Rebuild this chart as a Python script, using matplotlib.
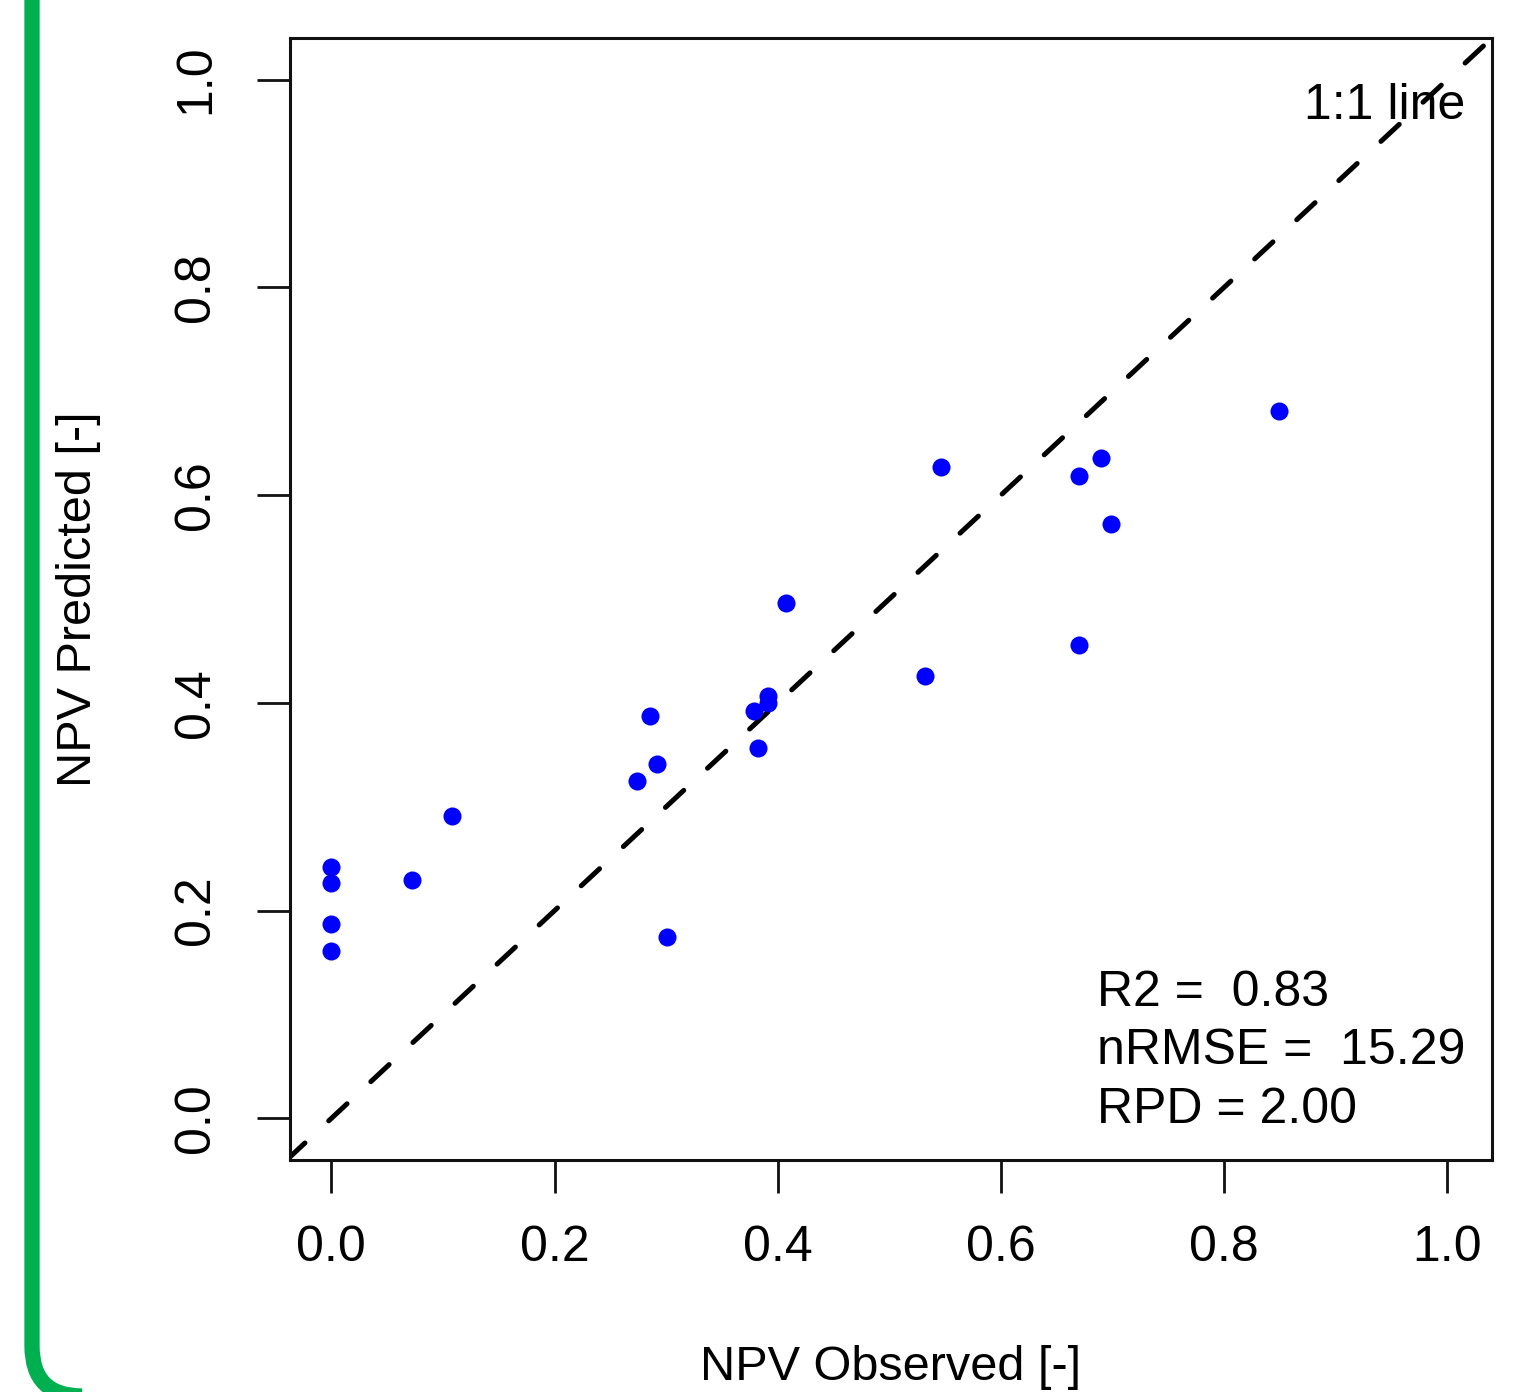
import numpy as np
import matplotlib
matplotlib.use("Agg")
import matplotlib.pyplot as plt
from matplotlib.patches import FancyBboxPatch
from matplotlib.transforms import IdentityTransform

# observed vs predicted NPV
npv_observed = [0.000, 0.000, 0.000, 0.000, 0.072, 0.108, 0.274, 0.286, 0.292,
                0.301, 0.379, 0.391, 0.391, 0.382, 0.407, 0.532, 0.546, 0.670,
                0.670, 0.690, 0.699, 0.849]
npv_predicted = [0.242, 0.227, 0.187, 0.161, 0.230, 0.291, 0.325, 0.387, 0.341,
                 0.175, 0.392, 0.407, 0.400, 0.357, 0.496, 0.426, 0.627, 0.618,
                 0.456, 0.636, 0.572, 0.681]
tick_values = [0.0, 0.2, 0.4, 0.6, 0.8, 1.0]
tick_labels = ["0.0", "0.2", "0.4", "0.6", "0.8", "1.0"]
stats_lines = ["R2 =  0.83", "nRMSE =  15.29", "RPD = 2.00"]

plt.rcParams['font.family'] = ['Liberation Sans', 'DejaVu Sans']

fig = plt.figure(figsize=(15.26, 13.92), dpi=100)

# green rounded frame at the left edge (pixel coords)
frame = FancyBboxPatch((32, -4), 2000, 2000,
                       boxstyle="round,pad=0,rounding_size=50",
                       transform=IdentityTransform(), fill=False,
                       edgecolor="#00b050", linewidth=11)
fig.patches.append(frame)

ax = fig.add_axes([290 / 1526, 232 / 1392, 1202 / 1526, 1122 / 1392])

# 1:1 line, starting at the lower-left corner
ax.plot([-0.04, 1.05], [-0.04, 1.05], color="black", lw=3.6,
        linestyle=(0, (5, 6.5)), dash_capstyle="round", zorder=1)
ax.plot(npv_observed, npv_predicted, "o", color="#0000ff", markersize=13,
        markeredgewidth=0, zorder=2)

ax.set_xlim(-0.037, 1.040)
ax.set_ylim(-0.040, 1.040)

ax.set_xticks(tick_values)
ax.set_xticklabels(tick_labels)
ax.set_yticks(tick_values)
ax.set_yticklabels(tick_labels, rotation=90, va="center")

ax.tick_params(axis="both", direction="out", length=24, width=2,
               labelsize=36, color="#111111")
ax.tick_params(axis="x", pad=23)
ax.tick_params(axis="y", pad=27)

for sp in ax.spines.values():
    sp.set_linewidth(2.2)
    sp.set_color("#111111")

ax.set_xlabel("NPV Observed [-]", fontsize=35)
ax.set_ylabel("NPV Predicted [-]", fontsize=35)
ax.xaxis.set_label_coords(0.5, -0.165)
ax.yaxis.set_label_coords(-0.157, 0.5)

ax.text(1.016, 0.975, "1:1 line", fontsize=36, ha="right", va="center")

for i, line in enumerate(stats_lines):
    ax.text(0.686, 0.121 - i * 0.0565, line, fontsize=36, ha="left",
            va="center")

fig.savefig("out.png", dpi=100)
